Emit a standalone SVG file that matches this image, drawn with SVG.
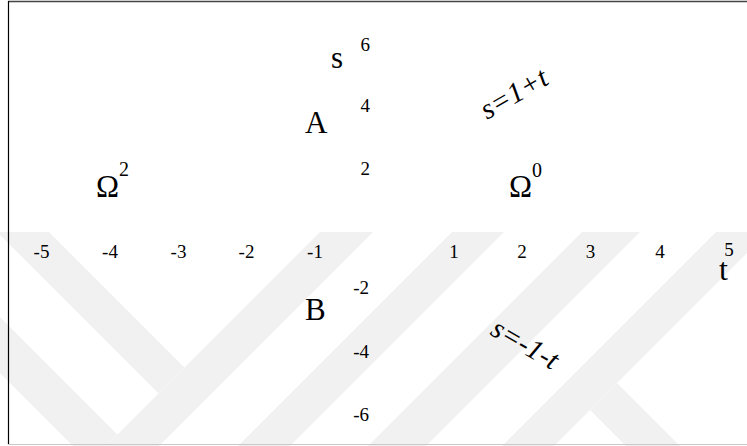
<svg xmlns="http://www.w3.org/2000/svg" width="747" height="446" viewBox="0 0 747 446">
<style>
  .wm { fill: #f1f1f1; }
  .lbl { font-family: 'Liberation Serif', 'Times New Roman', serif; fill: #000; }
  .num { font-size: 19px; }
  .big { font-size: 31px; }
  .sup { font-size: 20px; }
  .eq { font-size: 29px; font-style: italic; }
</style>
<rect x="0" y="0" width="747" height="446" fill="#ffffff"/>
<g id="watermark">
  <polygon class="wm" points="320,232 373,232 159,446 106,446"/>
  <polygon class="wm" points="-3,232 49,232 184.5,367.5 158.5,393.5"/>
  <polygon class="wm" points="-20,297 117.5,434.5 89.5,462.5 -20,353"/>
  <polygon class="wm" points="452,232 504,232 290,446 238,446"/>
  <polygon class="wm" points="582,232 640,232 426,446 368,446"/>
  <polygon class="wm" points="716,232 768,232 554,446 502,446"/>
  <polygon class="wm" points="617,383 680,446 626,446 590,410"/>
</g>
<g id="frame" fill="none">
  <line x1="8" y1="1.5" x2="747" y2="1.5" stroke="#444" stroke-width="1.6"/>
  <line x1="8.5" y1="1" x2="8.5" y2="444.5" stroke="#000" stroke-width="1.2"/>
  <line x1="8" y1="444.5" x2="747" y2="444.5" stroke="#c8c8c8" stroke-width="1"/>
</g>
<g id="connectors"></g>
<g id="t-axis-labels" class="lbl num" font-family="Liberation Serif, serif" text-anchor="middle">
  <text x="41.5" y="258">-5</text>
  <text x="110" y="258">-4</text>
  <text x="178.5" y="258">-3</text>
  <text x="246.5" y="258">-2</text>
  <text x="315" y="258">-1</text>
  <text x="454" y="258">1</text>
  <text x="522" y="258">2</text>
  <text x="590.5" y="258">3</text>
  <text x="660" y="258">4</text>
  <text x="729" y="256">5</text>
</g>
<g id="s-axis-labels" class="lbl num" font-family="Liberation Serif, serif" text-anchor="end">
  <text x="370" y="51">6</text>
  <text x="370" y="112">4</text>
  <text x="370" y="175">2</text>
  <text x="369" y="294">-2</text>
  <text x="369" y="358">-4</text>
  <text x="369" y="421">-6</text>
</g>
<g id="axis-names" class="lbl" font-family="Liberation Serif, serif">
  <text x="331" y="68" font-size="31">s</text>
  <text x="719" y="280" font-size="32">t</text>
</g>
<g id="node-A" class="lbl big" font-family="Liberation Serif, serif"><text x="305" y="133">A</text></g>
<g id="node-B" class="lbl big" font-family="Liberation Serif, serif"><text x="305" y="320">B</text></g>
<g id="node-omega2" class="lbl" font-family="Liberation Serif, serif"><text x="96" y="197" class="big">Ω<tspan class="sup" dy="-21">2</tspan></text></g>
<g id="node-omega0" class="lbl" font-family="Liberation Serif, serif"><text x="509" y="197" class="big">Ω<tspan class="sup" dy="-20">0</tspan></text></g>
<g id="line-upper" class="lbl eq" font-family="Liberation Serif, serif"><text transform="translate(487,120) rotate(-30)">s=1+t</text></g>
<g id="line-lower" class="lbl eq" font-family="Liberation Serif, serif"><text transform="translate(489,334) rotate(30)">s=-1-t</text></g>
</svg>
